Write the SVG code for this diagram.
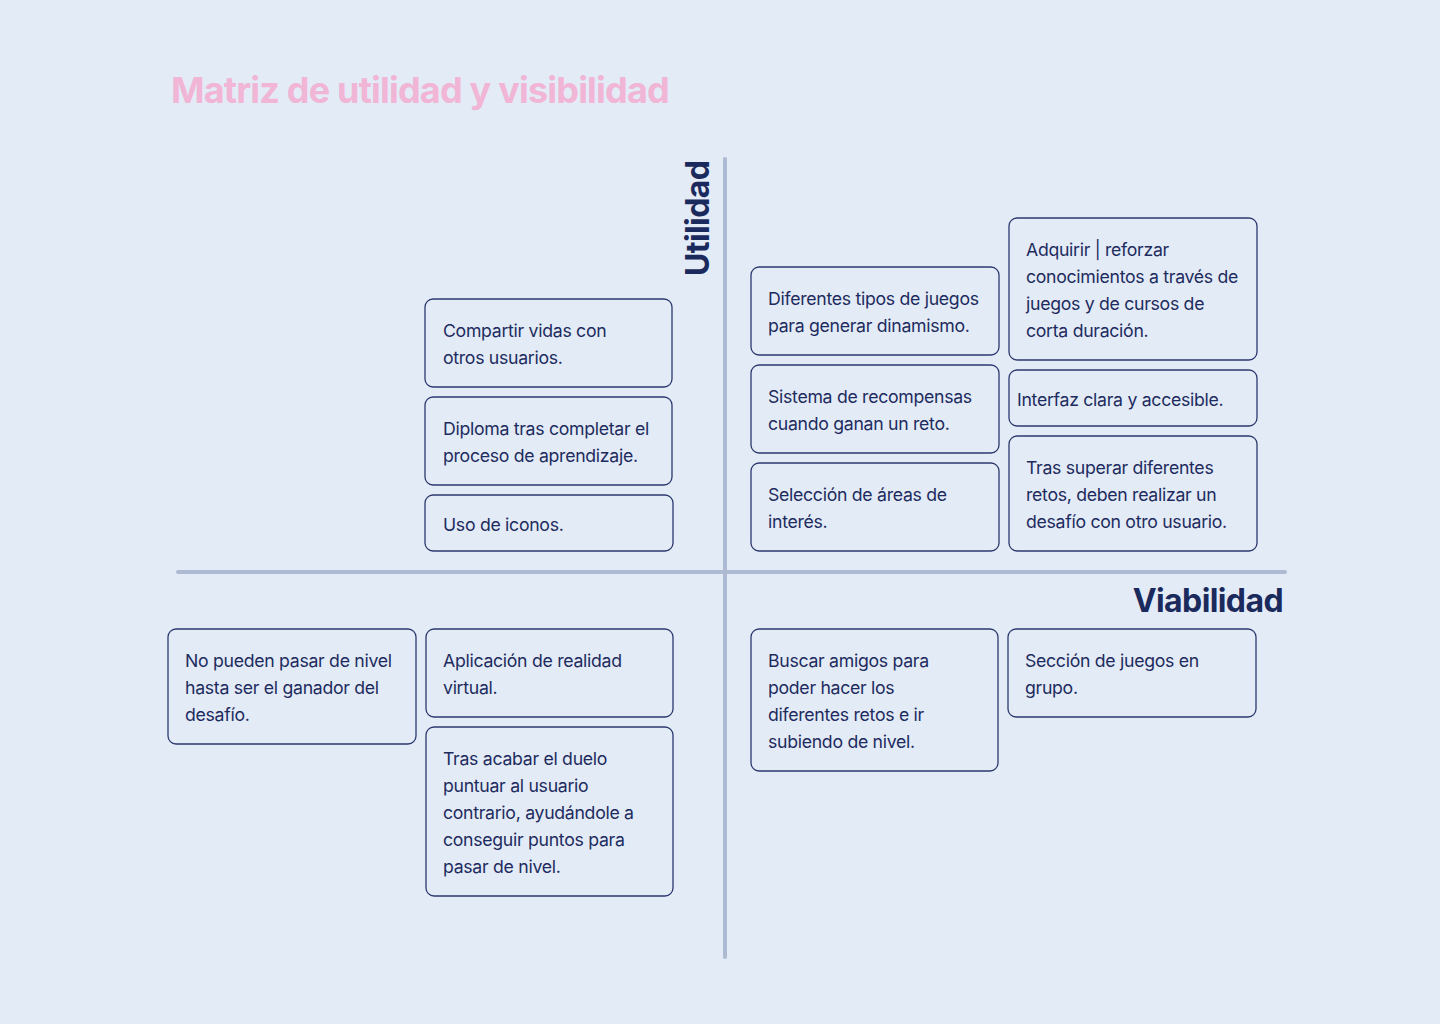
<svg xmlns="http://www.w3.org/2000/svg" width="1440" height="1024" viewBox="0 0 1440 1024">
<style>
.bg{fill:#e3ebf7}
.box rect{fill:#e3ebf7;stroke:#2c3a6e;stroke-width:1.3}
.box text{font-family:Inter,"Liberation Sans",sans-serif;font-size:17.7px;letter-spacing:-0.3px;fill:#1e2b5e}
.axis{stroke:#aeb9d2;stroke-width:4;stroke-linecap:round}
.lbl{font-family:Inter,"Liberation Sans",sans-serif;font-size:32px;font-weight:700;letter-spacing:-0.6px;fill:#1b2a5c}
.title{font-family:Inter,"Liberation Sans",sans-serif;font-size:36px;font-weight:700;letter-spacing:-0.8px;fill:#f1b5d5}
</style>
<rect class="bg" x="0" y="0" width="1440" height="1024"/>
<text class="title" x="171" y="103">Matriz de utilidad y visibilidad</text>
<g id="connectors">
<line class="axis" x1="725" y1="159" x2="725" y2="957"/>
<line class="axis" x1="178" y1="572" x2="1285" y2="572"/>
</g>
<text id="utilidad" class="lbl" transform="translate(709,276) rotate(-90)">Utilidad</text>
<text id="viabilidad" class="lbl" x="1283" y="612" text-anchor="end">Viabilidad</text>
<g id="n1" class="box"><rect x="425" y="299" width="247" height="88" rx="8"/><text x="443" y="337">Compartir vidas con</text><text x="443" y="364">otros usuarios.</text></g>
<g id="n2" class="box"><rect x="425" y="397" width="247" height="88" rx="8"/><text x="443" y="435">Diploma tras completar el</text><text x="443" y="462">proceso de aprendizaje.</text></g>
<g id="n3" class="box"><rect x="425" y="495" width="248" height="56" rx="8"/><text x="443" y="531">Uso de iconos.</text></g>
<g id="n4" class="box"><rect x="751" y="267" width="248" height="88" rx="8"/><text x="768" y="305">Diferentes tipos de juegos</text><text x="768" y="332">para generar dinamismo.</text></g>
<g id="n5" class="box"><rect x="751" y="365" width="248" height="88" rx="8"/><text x="768" y="403">Sistema de recompensas</text><text x="768" y="430">cuando ganan un reto.</text></g>
<g id="n6" class="box"><rect x="751" y="463" width="248" height="88" rx="8"/><text x="768" y="501">Selección de áreas de</text><text x="768" y="528">interés.</text></g>
<g id="n7" class="box"><rect x="1009" y="218" width="248" height="142" rx="8"/><text x="1026" y="256">Adquirir | reforzar</text><text x="1026" y="283">conocimientos a través de</text><text x="1026" y="310">juegos y de cursos de</text><text x="1026" y="337">corta duración.</text></g>
<g id="n8" class="box"><rect x="1009" y="370" width="248" height="56" rx="8"/><text x="1017" y="406">Interfaz clara y accesible.</text></g>
<g id="n9" class="box"><rect x="1009" y="436" width="248" height="115" rx="8"/><text x="1026" y="474">Tras superar diferentes</text><text x="1026" y="501">retos, deben realizar un</text><text x="1026" y="528">desafío con otro usuario.</text></g>
<g id="n10" class="box"><rect x="168" y="629" width="248" height="115" rx="8"/><text x="185" y="667">No pueden pasar de nivel</text><text x="185" y="694">hasta ser el ganador del</text><text x="185" y="721">desafío.</text></g>
<g id="n11" class="box"><rect x="426" y="629" width="247" height="88" rx="8"/><text x="443" y="667">Aplicación de realidad</text><text x="443" y="694">virtual.</text></g>
<g id="n12" class="box"><rect x="426" y="727" width="247" height="169" rx="8"/><text x="443" y="765">Tras acabar el duelo</text><text x="443" y="792">puntuar al usuario</text><text x="443" y="819">contrario, ayudándole a</text><text x="443" y="846">conseguir puntos para</text><text x="443" y="873">pasar de nivel.</text></g>
<g id="n13" class="box"><rect x="751" y="629" width="247" height="142" rx="8"/><text x="768" y="667">Buscar amigos para</text><text x="768" y="694">poder hacer los</text><text x="768" y="721">diferentes retos e ir</text><text x="768" y="748">subiendo de nivel.</text></g>
<g id="n14" class="box"><rect x="1008" y="629" width="248" height="88" rx="8"/><text x="1025" y="667">Sección de juegos en</text><text x="1025" y="694">grupo.</text></g>
</svg>
